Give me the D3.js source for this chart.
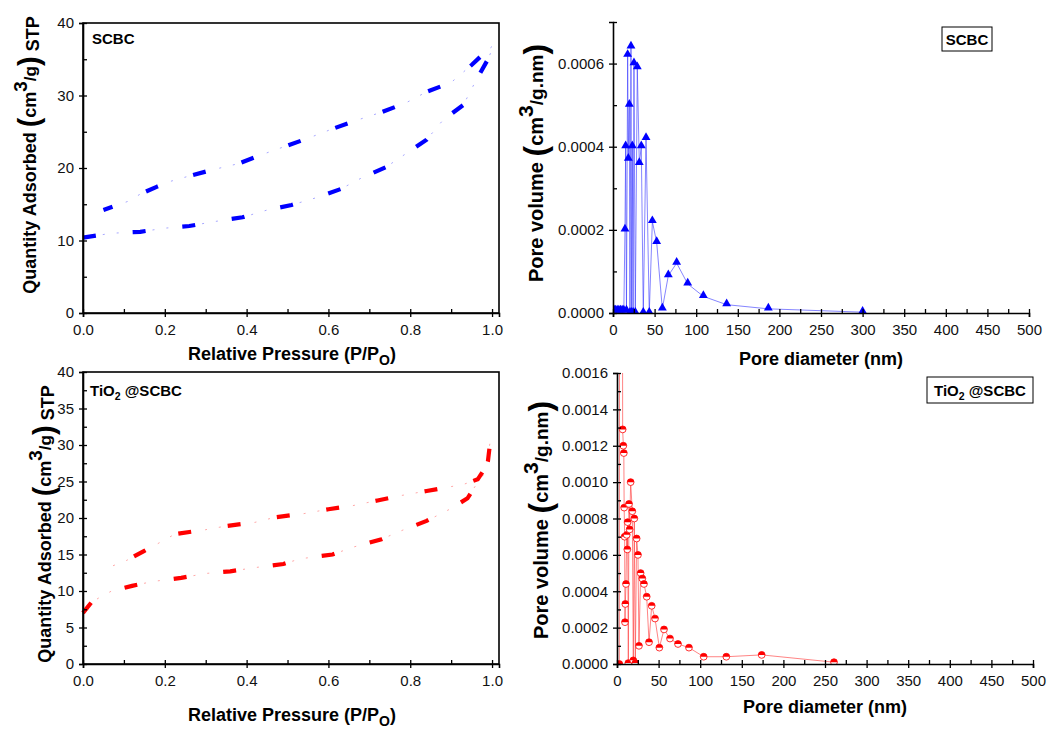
<!DOCTYPE html>
<meta charset="utf-8">
<script src="https://d3js.org/d3.v7.min.js"></script>
<style>
  body { margin: 0; background: #fff; }
  text { font-family: Arial, "Liberation Sans", sans-serif; }
</style>
<div id="chart"></div>
<script>
// ---- data: N2 isotherms (relative pressure, quantity adsorbed) ----
var adsP_SCBC = [0, 0.07, 0.14, 0.2, 0.26, 0.32, 0.39, 0.45, 0.51, 0.57, 0.63, 0.68, 0.74, 0.79, 0.84, 0.88, 0.93, 0.96, 0.99, 1.005];
var adsQ_SCBC = [10.4, 11.0, 11.2, 11.7, 12.0, 12.6, 13.2, 14.2, 14.9, 15.9, 17.1, 18.6, 20.1, 22.0, 23.9, 26.6, 28.7, 32.0, 35.0, 37.0];
var desP_SCBC = [1.005, 0.98, 0.95, 0.9, 0.84, 0.79, 0.73, 0.67, 0.61, 0.55, 0.49, 0.43, 0.38, 0.32, 0.26, 0.21, 0.18, 0.14, 0.11, 0.05];
var desQ_SCBC = [37.0, 35.8, 34.2, 31.8, 30.5, 29.0, 27.7, 26.6, 25.4, 24.1, 22.9, 21.7, 20.6, 19.8, 18.9, 18.1, 17.4, 16.4, 15.4, 14.2];

var adsP_TiO2 = [0, 0.02, 0.04, 0.07, 0.12, 0.17, 0.24, 0.3, 0.36, 0.42, 0.49, 0.53, 0.61, 0.66, 0.73, 0.78, 0.84, 0.9, 0.94, 0.965, 0.98, 0.99, 0.995];
var adsQ_TiO2 = [7.0, 8.4, 9.1, 10.0, 10.7, 11.3, 11.8, 12.4, 12.7, 13.2, 13.7, 14.4, 15.0, 16.0, 17.1, 18.3, 19.6, 21.3, 22.7, 24.9, 26.0, 27.8, 30.2];
var desP_TiO2 = [0.995, 0.985, 0.965, 0.93, 0.9, 0.84, 0.78, 0.72, 0.66, 0.6, 0.54, 0.47, 0.42, 0.35, 0.3, 0.225, 0.18, 0.15, 0.107, 0.066];
var desQ_TiO2 = [30.3, 27.0, 25.3, 24.6, 24.3, 23.7, 23.1, 22.4, 21.7, 21.2, 20.6, 20.1, 19.4, 18.9, 18.4, 17.8, 16.4, 15.5, 14.2, 13.3];

// ---- data: pore size distributions (diameter nm, volume cm3/g.nm) ----
var poreD_SCBC = [1.5, 3, 5, 7, 9, 11, 13, 14.4, 15.2, 16.2, 17.6, 18.4, 19.6, 20.4, 21.6, 22.4, 23.2, 24.2, 25.2, 26.8, 29.2, 31.6, 34, 36.4, 39.7, 43.6, 47.3, 52.5, 59.3, 66.5, 76.5, 89.8, 108.6, 136.6, 186.7, 300];
var poreV_SCBC = [0.000005, 0.000005, 0.000005, 0.000005, 0.000005, 0.000005, 0.000005, 0.0002, 0.0004, 0.000005, 0.00062, 0.00037, 0.0005, 0, 0.00064, 0, 0.0004, 0, 0.0006, 0, 0.00059, 0.00036, 0.0004, 0, 0.00042, 0, 0.00022, 0.00017, 0.00001, 0.00009, 0.00012, 0.00007, 0.00004, 0.00002, 0.00001, 0.000002];

var poreD_TiO2 = [2.8, 3.2, 6.4, 6.8, 7.6, 8.2, 8.6, 9.2, 9.6, 10, 10.8, 11.7, 12.4, 12.8, 13.6, 14.4, 15.2, 16.4, 18.4, 19.6, 20.8, 22, 23.6, 25.2, 26.4, 28.4, 30.4, 32.4, 35.7, 38.5, 41.7, 45.7, 50.9, 56.5, 63.7, 73.3, 86.5, 104.2, 131.4, 173.9, 260.8];
var poreV_TiO2 = [0, 0.0034, 0.0028, 0.00129, 0.0012, 0.00116, 0.00086, 0.0007, 0.00023, 0.00033, 0.00044, 0.00071, 0.00063, 0.00078, 0.000005, 0.00088, 0.00074, 0.001, 0.00084, 0.00002, 0.0008, 0.000005, 0.00069, 0.0006, 0.0001, 0.0005, 0.00047, 0.00044, 0.00037, 0.00012, 0.00032, 0.00025, 0.00009, 0.00019, 0.00014, 0.00011, 0.00009, 0.00004, 0.00004, 0.00005, 0.00001];

// ---- tick values ----
var pTicks = [0, 0.2, 0.4, 0.6, 0.8, 1.0];
var pMinor = [0.1, 0.3, 0.5, 0.7, 0.9];
var qTicksTop = [0, 10, 20, 30, 40];
var qMinorTop = [5, 15, 25, 35];
var qTicksBot = [0, 5, 10, 15, 20, 25, 30, 35, 40];
var qMinorBot = [2.5, 7.5, 12.5, 17.5, 22.5, 27.5, 32.5, 37.5];
var dTicks = [0, 50, 100, 150, 200, 250, 300, 350, 400, 450, 500];
var dMinor = [25, 75, 125, 175, 225, 275, 325, 375, 425, 475];
var vTicksTop = [0, 0.0002, 0.0004, 0.0006];
var vMinorTop = [0.0001, 0.0003, 0.0005, 0.0007];
var vTicksBot = [0, 0.0002, 0.0004, 0.0006, 0.0008, 0.0010, 0.0012, 0.0014, 0.0016];
var vMinorBot = [0.0001, 0.0003, 0.0005, 0.0007, 0.0009, 0.0011, 0.0013, 0.0015];

var svg = d3.select("#chart").append("svg")
    .attr("width", 1047)
    .attr("height", 731);

var FONT = "Arial, 'Liberation Sans', sans-serif";

// draws both axes with outward+inward major ticks and inward minor ticks
function drawAxes(x, y, xt, xm, xf, yt, ym, yf, frame) {
  var x0 = x.range()[0], x1 = x.range()[1];
  var y0 = y.range()[0], y1 = y.range()[1];
  var g = svg.append("g");

  if (frame) {
    g.append("rect")
      .attr("x", x0).attr("y", y1)
      .attr("width", x1 - x0).attr("height", y0 - y1)
      .attr("fill", "none").attr("stroke", "#000").attr("stroke-width", 1.6);
  }

  g.append("g").attr("transform", "translate(0," + y0 + ")")
    .call(d3.axisBottom(x).tickValues(xt).tickSize(4).tickPadding(7).tickFormat(xf));
  g.append("g").attr("transform", "translate(0," + y0 + ")")
    .call(d3.axisBottom(x).tickValues(xt.concat(xm)).tickSize(-4).tickFormat(""))
    .select(".domain").remove();

  g.append("g").attr("transform", "translate(" + x0 + ",0)")
    .call(d3.axisLeft(y).tickValues(yt).tickSize(4).tickPadding(5).tickFormat(yf));
  g.append("g").attr("transform", "translate(" + x0 + ",0)")
    .call(d3.axisLeft(y).tickValues(yt.concat(ym)).tickSize(-4).tickFormat(""))
    .select(".domain").remove();

  g.selectAll(".domain").attr("stroke-width", 1.6);
  g.selectAll(".tick line").attr("stroke-width", 1.3);
  g.selectAll("text").attr("font-family", FONT).attr("font-size", 15).attr("fill", "#111");
  g.selectAll("g").attr("font-family", FONT);
}

function clipFor(id, x, y) {
  svg.append("clipPath").attr("id", id).append("rect")
    .attr("x", x.range()[0]).attr("y", y.range()[1])
    .attr("width", x.range()[1] - x.range()[0])
    .attr("height", y.range()[0] - y.range()[1]);
}

// rotated y label with big parentheses and superscript
function yLabel(cx, cy, head, unit, fs) {
  var t = svg.append("text")
    .attr("transform", "translate(" + cx + "," + cy + ") rotate(-90)")
    .attr("text-anchor", "middle")
    .attr("font-weight", "bold").attr("font-size", fs).attr("fill", "#000");
  t.append("tspan").text(head + " ");
  t.append("tspan").attr("font-size", fs * 1.6).attr("dy", 3).text("(");
  t.append("tspan").attr("dy", -3).text("cm");
  t.append("tspan").attr("dy", -fs * 0.5).attr("font-size", fs * 1.05).text("3");
  t.append("tspan").attr("dy", fs * 0.5).attr("font-size", fs * 0.95).text(unit);
  t.append("tspan").attr("font-size", fs * 1.6).attr("dy", 3).text(")");
  return t;
}

function xLabelPressure(cx, by) {
  var t = svg.append("text").attr("x", cx).attr("y", by)
    .attr("text-anchor", "middle").attr("font-weight", "bold").attr("font-size", 18);
  t.append("tspan").text("Relative Pressure (P/P");
  t.append("tspan").attr("dy", 5).attr("font-size", 14).text("O");
  t.append("tspan").attr("dy", -5).text(")");
}

function xLabelPore(cx, by) {
  svg.append("text").attr("x", cx).attr("y", by)
    .attr("text-anchor", "middle").attr("font-weight", "bold").attr("font-size", 18)
    .text("Pore diameter (nm)");
}

function titleTiO2(x, by, size) {
  var t = svg.append("text").attr("x", x).attr("y", by)
    .attr("font-weight", "bold").attr("font-size", size);
  t.append("tspan").text("TiO");
  t.append("tspan").attr("dy", 4).attr("font-size", size * 0.7).text("2");
  t.append("tspan").attr("dy", -4).text(" @SCBC");
  return t;
}

// isotherm: thick dashes plus faint dots (dash-dot-dot look)
function drawIsotherm(x, y, P, Q, color, faint) {
  var pts = P.map(function(p, i) { return [p, Q[i]]; });
  var line = d3.line().x(function(d) { return x(d[0]); }).y(function(d) { return y(d[1]); });
  svg.append("path").datum(pts)
    .attr("d", line).attr("fill", "none")
    .attr("stroke", faint).attr("stroke-width", 1)
    .attr("stroke-dasharray", "2,12,2,34").attr("stroke-dashoffset", -20);
  svg.append("path").datum(pts)
    .attr("d", line).attr("fill", "none")
    .attr("stroke", color).attr("stroke-width", 4.2)
    .attr("stroke-dasharray", "13,37");
}

// =============== panel 1: SCBC isotherm ===============
var x1 = d3.scaleLinear().domain([0, 1.017]).range([83, 499]);
var y1 = d3.scaleLinear().domain([0, 40]).range([313, 23]);
drawIsotherm(x1, y1, adsP_SCBC.concat(desP_SCBC), adsQ_SCBC.concat(desQ_SCBC), "#0000ff", "#a8a8ff");
drawAxes(x1, y1, pTicks, pMinor, d3.format(".1f"), qTicksTop, qMinorTop, d3.format("d"), true);
svg.append("text").attr("x", 92).attr("y", 44).attr("font-weight", "bold").attr("font-size", 15).text("SCBC");
yLabel(36, 155, "Quantity Adsorbed", "/g", 18).append("tspan").text(" STP");
xLabelPressure(292, 360);

// =============== panel 3: TiO2@SCBC isotherm ===============
var x3 = d3.scaleLinear().domain([0, 1.017]).range([83, 499]);
var y3 = d3.scaleLinear().domain([0, 40]).range([664, 372]);
drawIsotherm(x3, y3, adsP_TiO2.concat(desP_TiO2), adsQ_TiO2.concat(desQ_TiO2), "#ff0000", "#ffa8a8");
drawAxes(x3, y3, pTicks, pMinor, d3.format(".1f"), qTicksBot, qMinorBot, d3.format("d"), true);
titleTiO2(90, 396, 15);
yLabel(51, 524, "Quantity Adsorbed", "/g", 18).append("tspan").text(" STP");
xLabelPressure(292, 721);

// =============== panel 2: SCBC pore size ===============
var x2 = d3.scaleLinear().domain([0, 500]).range([613, 1029]);
var y2 = d3.scaleLinear().domain([0, 0.0007]).range([313, 22]);
clipFor("clip2", x2, y2);
var pore1 = poreD_SCBC.map(function(d, i) { return [d, poreV_SCBC[i]]; });
var g2 = svg.append("g").attr("clip-path", "url(#clip2)");
g2.append("path").datum(pore1)
  .attr("d", d3.line().x(function(d) { return x2(d[0]); }).y(function(d) { return y2(d[1]); }))
  .attr("fill", "none").attr("stroke", "#3333ff").attr("stroke-opacity", 0.6).attr("stroke-width", 1);
g2.selectAll(".tri").data(pore1).enter().append("path")
  .attr("transform", function(d) { return "translate(" + x2(d[0]) + "," + (y2(d[1]) - 1) + ")"; })
  .attr("d", d3.symbol().type(d3.symbolTriangle).size(34))
  .attr("fill", "#0000ff");
drawAxes(x2, y2, dTicks, dMinor, d3.format("d"), vTicksTop, vMinorTop, d3.format(".4f"), false);
yLabel(543, 163, "Pore volume", "/g.nm", 20);
xLabelPore(821, 365);
svg.append("rect").attr("x", 942).attr("y", 27).attr("width", 50).attr("height", 24)
  .attr("fill", "none").attr("stroke", "#000").attr("stroke-width", 1);
svg.append("text").attr("x", 967).attr("y", 45).attr("text-anchor", "middle")
  .attr("font-weight", "bold").attr("font-size", 15).text("SCBC");

// =============== panel 4: TiO2@SCBC pore size ===============
var x4 = d3.scaleLinear().domain([0, 500]).range([617, 1033]);
var y4 = d3.scaleLinear().domain([0, 0.0016]).range([664, 373]);
clipFor("clip4", x4, y4);
var pore2 = poreD_TiO2.map(function(d, i) { return [d, poreV_TiO2[i]]; });
var g4 = svg.append("g").attr("clip-path", "url(#clip4)");
g4.append("path").datum(pore2)
  .attr("d", d3.line().x(function(d) { return x4(d[0]); }).y(function(d) { return y4(d[1]); }))
  .attr("fill", "none").attr("stroke", "#ff3333").attr("stroke-opacity", 0.6).attr("stroke-width", 1);
var circ = g4.selectAll(".circ").data(pore2).enter().append("g")
  .attr("transform", function(d) { return "translate(" + x4(d[0]) + "," + y4(d[1]) + ")"; });
circ.append("circle").attr("r", 3.4).attr("fill", "#fff").attr("stroke", "#ff0000").attr("stroke-width", 0.8);
circ.append("path").attr("d", "M-3.4,0A3.4,3.4 0 0 1 3.4,0Z").attr("fill", "#ff0000");
drawAxes(x4, y4, dTicks, dMinor, d3.format("d"), vTicksBot, vMinorBot, d3.format(".4f"), false);
yLabel(548, 520, "Pore volume", "/g.nm", 20);
xLabelPore(825, 713);
svg.append("rect").attr("x", 927).attr("y", 377).attr("width", 106).attr("height", 26)
  .attr("fill", "none").attr("stroke", "#000").attr("stroke-width", 1);
titleTiO2(934, 396, 15);
</script>
